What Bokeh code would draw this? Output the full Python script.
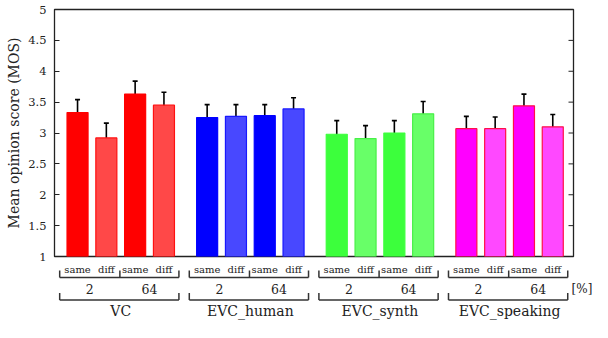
from bokeh.plotting import figure
from bokeh.models import ColumnDataSource, Whisker, TeeHead, FixedTicker, Range1d, CustomJSTickFormatter
from bokeh.layouts import column
from bokeh.core.properties import value
from bokeh.embed import file_html
from bokeh.resources import INLINE

# ---- data ----
groups = ["VC", "EVC_human", "EVC_synth", "EVC_speaking"]
rates = ["2", "64"]
speakers = ["same", "diff"]
y_ticks = [1, 1.5, 2, 2.5, 3, 3.5, 4, 4.5, 5]

vc_mean = [3.33, 2.92, 3.63, 3.45]
vc_upper = [3.54, 3.16, 3.84, 3.66]
vc_lower = [3.11, 2.67, 3.41, 3.25]

human_mean = [3.25, 3.27, 3.28, 3.39]
human_upper = [3.46, 3.46, 3.46, 3.57]
human_lower = [3.01, 3.08, 3.09, 3.19]

synth_mean = [2.98, 2.91, 3.00, 3.31]
synth_upper = [3.20, 3.12, 3.20, 3.51]
synth_lower = [2.75, 2.70, 2.78, 3.10]

speaking_mean = [3.07, 3.07, 3.44, 3.10]
speaking_upper = [3.27, 3.26, 3.63, 3.30]
speaking_lower = [2.86, 2.88, 3.22, 2.89]

means = [vc_mean, human_mean, synth_mean, speaking_mean]
uppers = [vc_upper, human_upper, synth_upper, speaking_upper]
lowers = [vc_lower, human_lower, synth_lower, speaking_lower]

# styles
dark_fill = ["#ff0000", "#0000ff", "#3cff3c", "#ff00ff"]
light_fill = ["#ff4848", "#4848ff", "#68ff68", "#ff48ff"]
edge = ["#ff1010", "#1818ff", "#48f048", "#ff1048"]
FONT = "DejaVu Serif"
TXT = "#222222"

GROUP_STEP = 4.5
xs, tops, ups, los, fills, lines = [], [], [], [], [], []
for g in range(len(groups)):
    for i in range(4):
        xs.append(g * GROUP_STEP + i)
        tops.append(means[g][i])
        ups.append(uppers[g][i])
        los.append(lowers[g][i])
        fills.append(dark_fill[g] if i % 2 == 0 else light_fill[g])
        lines.append(edge[g] if (i % 2 == 1 or g == 3) else dark_fill[g])

src = ColumnDataSource(dict(x=xs, top=tops, upper=ups, lower=los, fill=fills, line=lines))

X0, X1 = -0.80, 17.22
W, H1, H2 = 592, 264, 58
BL, BR = 54, 19
ppu = (W - BL - BR) / (X1 - X0)

p = figure(width=W, height=H1, x_range=Range1d(X0, X1), y_range=Range1d(1, 5),
           x_axis_type=None, output_backend="svg", toolbar_location=None,
           min_border_left=BL, min_border_right=BR, min_border_top=9, min_border_bottom=8)
p.outline_line_color = TXT
p.outline_line_width = 1.3
p.ygrid.visible = False

p.vbar(x="x", top="top", bottom=1, width=0.73, source=src,
       fill_color="fill", line_color="line", line_width=1.2)

wh = Whisker(base="x", upper="upper", lower="lower", source=src,
             line_color="black", line_width=1.6,
             upper_head=TeeHead(size=5, line_color="black", line_width=1.6),
             lower_head=TeeHead(size=5, line_color="black", line_width=1.6))
p.add_layout(wh)

ax = p.yaxis[0]
ax.ticker = FixedTicker(ticks=y_ticks)
ax.formatter = CustomJSTickFormatter(code="return tick.toString();")
ax.major_tick_in = 5
ax.major_tick_out = 0
ax.minor_tick_line_color = None
ax.axis_line_color = TXT
ax.major_tick_line_color = TXT
ax.major_label_text_font = FONT
ax.major_label_text_font_size = "11.5px"
ax.major_label_text_color = TXT
ax.major_label_standoff = 8
ax.axis_label = "Mean opinion score (MOS)"
ax.axis_label_text_font = FONT
ax.axis_label_text_font_size = "14px"
ax.axis_label_text_font_style = "normal"
ax.axis_label_text_color = TXT
ax.axis_label_standoff = 3

# inward tick marks on the right frame edge
p.segment(x0=[X1] * len(y_ticks), x1=[X1 - 5 / ppu] * len(y_ticks),
          y0=y_ticks, y1=y_ticks, line_color=TXT, line_width=1)

# ---- bracket annotation panel (own frame spanning the whole width) ----
q = figure(width=W, height=H2, x_range=Range1d(X0 - BL / ppu, X1 + BR / ppu),
           y_range=Range1d(0, H2), x_axis_type=None, y_axis_type=None,
           output_backend="svg", toolbar_location=None, min_border=0,
           frame_align=False)
q.outline_line_color = None
q.grid.visible = False

LC = "#333333"
lab_x, lab_t = [], []
rate_x, rate_t = [], []
grp_x = []
hx0, hx1, hy = [], [], []
vx, vy0, vy1 = [], [], []
for g in range(len(groups)):
    base = g * GROUP_STEP
    for i in range(4):
        lab_x.append(base + i)
        lab_t.append(speakers[i % 2])
    left, mid, right = base - 0.62, base + 1.47, base + 3.52
    rate_x += [(left + mid) / 2, (mid + right) / 2]
    rate_t += rates
    grp_x.append(base + 1.5)
    hx0.append(left); hx1.append(right); hy.append(45)
    for xv in (left, mid, right):
        vx.append(xv); vy0.append(45); vy1.append(52)
    hx0.append(left); hx1.append(right); hy.append(22.5)
    for xv in (left, right):
        vx.append(xv); vy0.append(22.5); vy1.append(29.5)

q.segment(x0=hx0, x1=hx1, y0=hy, y1=hy, line_color=LC, line_width=1.5)
q.segment(x0=vx, x1=vx, y0=vy0, y1=vy1, line_color=LC, line_width=1.5)

q.text(x=lab_x, y=[53.5] * len(lab_x), text=lab_t, text_align="center", text_baseline="middle",
       text_font=value(FONT), text_font_size="10px", text_color=TXT)
q.text(x=rate_x, y=[34] * len(rate_x), text=rate_t, text_align="center", text_baseline="middle",
       text_font=value(FONT), text_font_size="12.5px", text_color=TXT)
q.text(x=grp_x, y=[12] * len(grp_x), text=groups, text_align="center", text_baseline="middle",
       text_font=value(FONT), text_font_size="14px", text_color=TXT)
q.text(x=[X1 + 8.5 / ppu], y=[34], text=["[%]"], text_align="center", text_baseline="middle",
       text_font=value(FONT), text_font_size="12px", text_color=TXT)

layout = column(p, q, spacing=0)
open("out.html", "w").write(file_html(layout, INLINE))
